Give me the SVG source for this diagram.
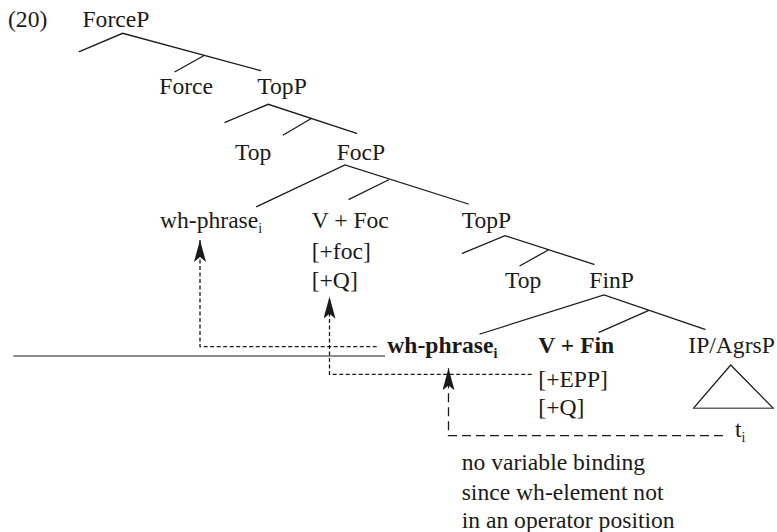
<svg xmlns="http://www.w3.org/2000/svg" width="777" height="532" viewBox="0 0 777 532">
  <style>
    text { font-family: "Liberation Serif", "Times New Roman", serif; font-size: 23.6px; fill: #1a1a1a; }
    .b { font-weight: bold; }
    .sub { font-size: 14px; }
    .edge { stroke: #1a1a1a; stroke-width: 1.3; fill: none; stroke-linecap: round; }
    .dash { stroke: #1a1a1a; stroke-width: 1.3; fill: none; stroke-dasharray: 4 2.5; }
    .dashlong { stroke: #1a1a1a; stroke-width: 1.3; fill: none; stroke-dasharray: 9 5; }
    .rule { stroke: #666; stroke-width: 1.6; fill: none; }
  </style>
  <defs>
    <marker id="head" viewBox="0 0 22 12" refX="22" refY="6" markerWidth="22" markerHeight="12" markerUnits="userSpaceOnUse" orient="auto">
      <path d="M0,0 L22,6 L0,12 L5,6 Z" fill="#1a1a1a" stroke="none"/>
    </marker>
  </defs>

  <text x="8" y="27">(20)</text>

  <!-- tree edges -->
  <g id="edges">
    <path class="edge" d="M79.3,51.7 L122.7,33.3 L260.7,70.7 M203.3,56 L175,71.7"/>
    <path class="edge" d="M225,122.3 L268.3,104.3 L356.7,133.3 M311.7,118.3 L283.3,135"/>
    <path class="edge" d="M256.7,206.7 L345,165 L468.3,204 M388.3,180 L349,199.3"/>
    <path class="edge" d="M462.3,253.3 L505,235.7 L594,264.3 M548.3,250 L520,265.7"/>
    <path class="edge" d="M480,334 L604,295 L705,329.3 M648.3,310.7 L599,332.3"/>
  </g>

  <!-- nodes -->
  <g id="n-forceP"><text x="82.5" y="27">ForceP</text></g>
  <g id="n-force"><text x="159.3" y="94">Force</text></g>
  <g id="n-topP1"><text x="257.3" y="94">TopP</text></g>
  <g id="n-top1"><text x="235" y="160">Top</text></g>
  <g id="n-focP"><text x="336.7" y="160">FocP</text></g>
  <g id="n-wh-spec"><text x="160" y="228">wh-phrase<tspan class="sub" dy="5">i</tspan></text></g>
  <g id="n-vfoc">
    <text x="311.7" y="228">V + Foc</text>
    <text x="311.7" y="259">[+foc]</text>
    <text x="311.7" y="288">[+Q]</text>
  </g>
  <g id="n-topP2"><text x="461.7" y="228">TopP</text></g>
  <g id="n-top2"><text x="505" y="287.7">Top</text></g>
  <g id="n-finP"><text x="589.3" y="287.7">FinP</text></g>
  <g id="n-wh-fin"><text class="b" x="387.3" y="353">wh-phrase<tspan class="sub" dy="5">i</tspan></text></g>
  <g id="n-vfin">
    <text class="b" x="538.3" y="353">V + Fin</text>
    <text x="538.3" y="386.5">[+EPP]</text>
    <text x="538.3" y="415">[+Q]</text>
  </g>
  <g id="n-ip">
    <text x="688.3" y="353">IP/AgrsP</text>
    <path class="edge" d="M693.3,408.3 L730.7,365 L773.3,408.3"/>
    <path class="rule" d="M693.3,408.3 H773.3"/>
  </g>
  <g id="n-trace"><text x="735" y="437">t<tspan class="sub" dy="5">i</tspan></text></g>
  <g id="n-note">
    <text x="461.7" y="470">no variable binding</text>
    <text x="461.7" y="499.5">since wh-element not</text>
    <text x="461.7" y="528">in an operator position</text>
  </g>

  <!-- horizontal rule under the lower spec position -->
  <path class="rule" d="M13.3,356 H385"/>

  <!-- movement connectors -->
  <g id="connectors">
    <path class="dash" d="M376.7,346.7 H200 V240" marker-end="url(#head)"/>
    <path class="dash" d="M531.7,374.3 H329.5 V296.7" marker-end="url(#head)"/>
    <path class="dashlong" d="M723,435.7 H448.5 V368.3" marker-end="url(#head)"/>
  </g>
</svg>
